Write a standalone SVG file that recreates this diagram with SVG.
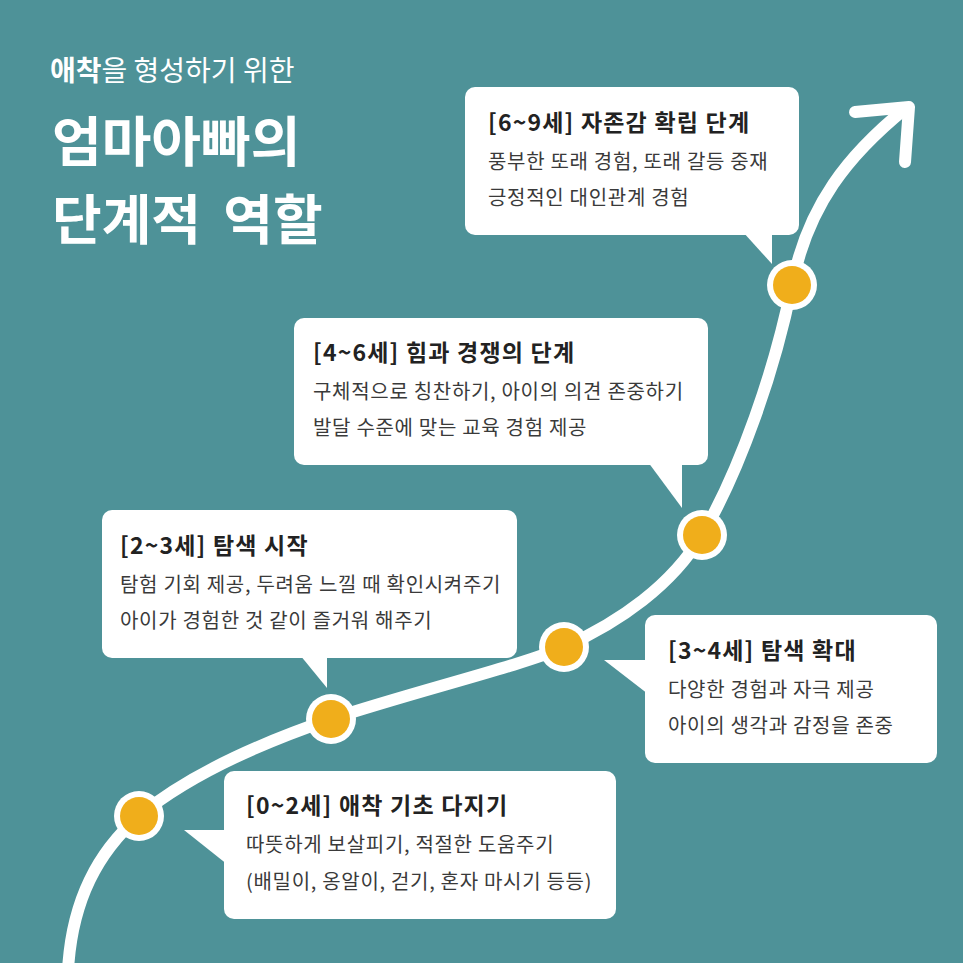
<svg xmlns="http://www.w3.org/2000/svg" width="963" height="963" viewBox="0 0 963 963">
  <style>
    .bg { fill: #4e9298; }
    .road { fill: none; stroke: #ffffff; stroke-width: 12; stroke-linecap: round; stroke-linejoin: round; }
    .bubble { fill: #ffffff; }
    .ring { fill: #ffffff; }
    .dot { fill: #f0ae1b; }
    .t { font-family: "Noto Sans CJK KR", "Noto Sans", sans-serif; }
    .head { font-size: 23px; font-weight: 700; fill: #222222; letter-spacing: 1.2px; }
    .body { font-size: 20px; font-weight: 400; fill: #3a3a3a; letter-spacing: 0.7px; }
    .sub { font-size: 28px; font-weight: 400; fill: #ffffff; }
    .big { font-size: 54px; font-weight: 700; fill: #ffffff; }
  </style>
  <rect class="bg" x="0" y="0" width="963" height="963"/>

  <g id="title">
    <text class="t sub" x="50" y="81"><tspan font-weight="700">애착</tspan>을 형성하기 위한</text>
    <text class="t big" x="52" y="162">엄마아빠의</text>
    <text class="t big" x="52" y="240" word-spacing="10">단계적 역할</text>
  </g>

  <g id="connectors">
    <path class="road" d="M 68 970 C 72 900 98 852 139 816 C 185 778 255 745 331 719 C 420 690 520 666 564 647 C 620 622 672 585 702 535 C 740 470 775 370 792 285 C 808 205 848 155 906 108"/>
    <polyline class="road" points="855,112 909,107 905,162"/>
  </g>

  <g id="stage-0-2">
    <rect class="bubble" x="224" y="771" width="392" height="148" rx="10"/>
    <polygon class="bubble" points="184,830 228,830 228,865"/>
    <circle class="ring" cx="139" cy="816" r="25"/>
    <circle class="dot" cx="139" cy="816" r="19"/>
    <text class="t head" x="246" y="814">[0~2세] 애착 기초 다지기</text>
    <text class="t body" x="246" y="852">따뜻하게 보살피기, 적절한 도움주기</text>
    <text class="t body" x="246" y="889">(배밀이, 옹알이, 걷기, 혼자 마시기 등등)</text>
  </g>

  <g id="stage-2-3">
    <rect class="bubble" x="102" y="510" width="415" height="148" rx="10"/>
    <polygon class="bubble" points="300,655 327,655 327,688"/>
    <circle class="ring" cx="331" cy="719" r="25"/>
    <circle class="dot" cx="331" cy="719" r="19"/>
    <text class="t head" x="120" y="554">[2~3세] 탐색 시작</text>
    <text class="t body" x="120" y="592">탐험 기회 제공, 두려움 느낄 때 확인시켜주기</text>
    <text class="t body" x="120" y="628">아이가 경험한 것 같이 즐거워 해주기</text>
  </g>

  <g id="stage-3-4">
    <rect class="bubble" x="645" y="615" width="292" height="148" rx="10"/>
    <polygon class="bubble" points="604,660 648,660 648,694"/>
    <circle class="ring" cx="564" cy="647" r="25"/>
    <circle class="dot" cx="564" cy="647" r="19"/>
    <text class="t head" x="668" y="659">[3~4세] 탐색 확대</text>
    <text class="t body" x="668" y="697">다양한 경험과 자극 제공</text>
    <text class="t body" x="668" y="733">아이의 생각과 감정을 존중</text>
  </g>

  <g id="stage-4-6">
    <rect class="bubble" x="294" y="318" width="414" height="147" rx="10"/>
    <polygon class="bubble" points="648,462 682,462 682,508"/>
    <circle class="ring" cx="702" cy="535" r="25"/>
    <circle class="dot" cx="702" cy="535" r="19"/>
    <text class="t head" x="313" y="361">[4~6세] 힘과 경쟁의 단계</text>
    <text class="t body" x="313" y="399">구체적으로 칭찬하기, 아이의 의견 존중하기</text>
    <text class="t body" x="313" y="435">발달 수준에 맞는 교육 경험 제공</text>
  </g>

  <g id="stage-6-9">
    <rect class="bubble" x="465" y="87" width="334" height="148" rx="10"/>
    <polygon class="bubble" points="743,232 772,232 772,264"/>
    <circle class="ring" cx="792" cy="285" r="25"/>
    <circle class="dot" cx="792" cy="285" r="19"/>
    <text class="t head" x="488" y="131">[6~9세] 자존감 확립 단계</text>
    <text class="t body" x="488" y="169">풍부한 또래 경험, 또래 갈등 중재</text>
    <text class="t body" x="488" y="205">긍정적인 대인관계 경험</text>
  </g>
</svg>
